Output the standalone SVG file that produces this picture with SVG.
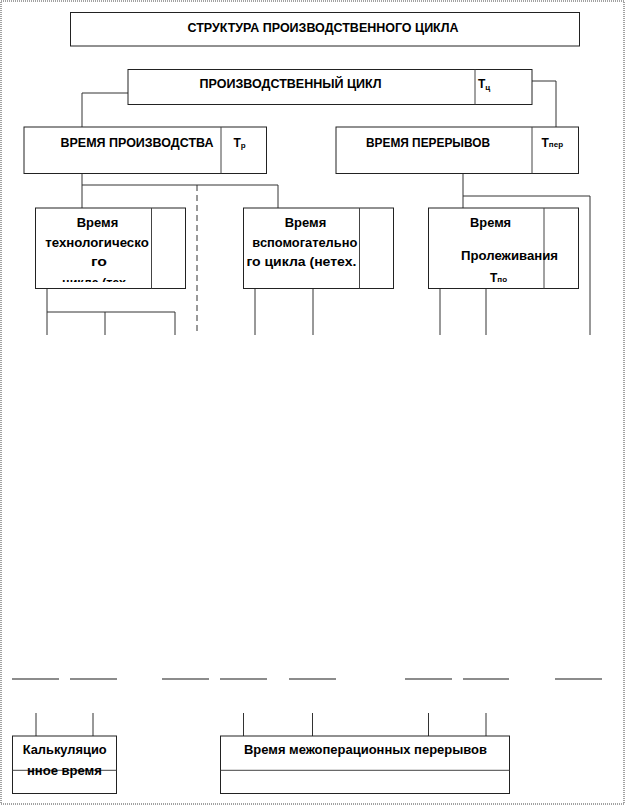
<svg xmlns="http://www.w3.org/2000/svg" width="626" height="806" viewBox="0 0 626 806">
<defs>
<style>
.box{fill:#fff;stroke:#222;stroke-width:1}
.div{stroke:#444;stroke-width:1;fill:none}
.ln{stroke:#333;stroke-width:1;fill:none}
.gl{stroke:#666;stroke-width:1.3;fill:none}
.t{font-family:"Liberation Sans Narrow","Liberation Sans",Arial,sans-serif;font-weight:bold;font-size:12px;fill:#000}
.s{font-size:8px}
</style>
<clipPath id="c1"><rect x="36" y="208" width="115" height="74"/></clipPath>
<clipPath id="c2"><rect x="244" y="208" width="115" height="80"/></clipPath>
</defs>
<rect x="1" y="1" width="623" height="803" fill="#fff" stroke="#444" stroke-width="1" stroke-dasharray="1 1"/>

<g id="connectors">
<polyline class="ln" points="128,93 82,93 82,127"/>
<polyline class="ln" points="532,81 556,81 556,127"/>
<polyline class="ln" points="82,173 82,185 278,185 278,208"/>
<line class="ln" x1="82" y1="185" x2="82" y2="208"/>
<line class="ln" x1="197" y1="185" x2="197" y2="335" stroke-dasharray="6 4"/>
<polyline class="ln" points="463,173 463,208"/>
<polyline class="ln" points="463,196 590,196 590,335"/>
<polyline class="ln" points="47,288 47,335"/>
<polyline class="ln" points="47,312 175,312 175,335"/>
<line class="ln" x1="105" y1="312" x2="105" y2="335"/>
<line class="ln" x1="255" y1="288" x2="255" y2="335"/>
<line class="ln" x1="313" y1="288" x2="313" y2="335"/>
<line class="ln" x1="440" y1="288" x2="440" y2="335"/>
<line class="ln" x1="486" y1="288" x2="486" y2="335"/>
<g class="gl">
<line x1="12" y1="679" x2="59" y2="679"/>
<line x1="70" y1="679" x2="117" y2="679"/>
<line x1="162" y1="679" x2="209" y2="679"/>
<line x1="220" y1="679" x2="267" y2="679"/>
<line x1="289" y1="679" x2="336" y2="679"/>
<line x1="405" y1="679" x2="452" y2="679"/>
<line x1="463" y1="679" x2="509" y2="679"/>
<line x1="555" y1="679" x2="602" y2="679"/>
</g>
<line class="ln" x1="36" y1="713" x2="36" y2="736"/>
<line class="ln" x1="93" y1="713" x2="93" y2="736"/>
<line class="ln" x1="243.5" y1="713" x2="243.5" y2="736"/>
<line class="ln" x1="312.5" y1="713" x2="312.5" y2="736"/>
<line class="ln" x1="428.5" y1="713" x2="428.5" y2="736"/>
<line class="ln" x1="486" y1="713" x2="486" y2="736"/>
</g>

<g id="title">
<rect class="box" x="70.5" y="12.5" width="509" height="33.5"/>
<text class="t" x="323" y="31.5" text-anchor="middle" textLength="271" lengthAdjust="spacingAndGlyphs">СТРУКТУРА ПРОИЗВОДСТВЕННОГО ЦИКЛА</text>
</g>

<g id="prod-cycle">
<rect class="box" x="128" y="69.5" width="404" height="35"/>
<line class="div" x1="475" y1="69.5" x2="475" y2="104.5"/>
<text class="t" x="290.5" y="88.3" text-anchor="middle" textLength="182" lengthAdjust="spacingAndGlyphs">ПРОИЗВОДСТВЕННЫЙ ЦИКЛ</text>
<text class="t" x="478" y="88.3">Т<tspan class="s" dy="2">ц</tspan></text>
</g>

<g id="prod-time">
<rect class="box" x="24" y="127" width="242.5" height="46.5"/>
<line class="div" x1="221" y1="127" x2="221" y2="173.5"/>
<text class="t" x="137" y="146.7" text-anchor="middle" textLength="153" lengthAdjust="spacingAndGlyphs">ВРЕМЯ ПРОИЗВОДСТВА</text>
<text class="t" x="233.5" y="146.7">Т<tspan class="s" dy="1">р</tspan></text>
</g>

<g id="break-time">
<rect class="box" x="336" y="127" width="242.5" height="46.5"/>
<line class="div" x1="532" y1="127" x2="532" y2="173.5"/>
<text class="t" x="428" y="146.7" text-anchor="middle" textLength="124" lengthAdjust="spacingAndGlyphs">ВРЕМЯ ПЕРЕРЫВОВ</text>
<text class="t" x="541.5" y="146.7">Т<tspan class="s" dy="0">пер</tspan></text>
</g>

<g id="tech-cycle">
<rect class="box" x="35.5" y="208" width="150" height="80.5"/>
<line class="div" x1="151.5" y1="208" x2="151.5" y2="288.5"/>
<text class="t" x="97.5" y="226.7" text-anchor="middle" textLength="41.5" lengthAdjust="spacingAndGlyphs">Время</text>
<text class="t" x="97" y="246.7" text-anchor="middle" textLength="103.5" lengthAdjust="spacingAndGlyphs">технологическо</text>
<text class="t" x="99" y="266" text-anchor="middle" textLength="16" lengthAdjust="spacingAndGlyphs">го</text>
<text class="t" x="94" y="286.5" text-anchor="middle" textLength="64" lengthAdjust="spacingAndGlyphs" clip-path="url(#c1)">цикла (тех</text>
</g>

<g id="aux-cycle">
<rect class="box" x="243.5" y="208" width="150" height="80.5"/>
<line class="div" x1="359.5" y1="208" x2="359.5" y2="288.5"/>
<text class="t" x="305.5" y="226.7" text-anchor="middle" textLength="41.5" lengthAdjust="spacingAndGlyphs">Время</text>
<text class="t" x="304.8" y="246.7" text-anchor="middle" textLength="105" lengthAdjust="spacingAndGlyphs">вспомогательно</text>
<text class="t" x="301.4" y="266" text-anchor="middle" textLength="110" lengthAdjust="spacingAndGlyphs">го цикла (нетех.</text>
</g>

<g id="lying-time">
<rect class="box" x="428.5" y="208" width="150" height="80.5"/>
<line class="div" x1="544" y1="208" x2="544" y2="288.5"/>
<text class="t" x="490.6" y="226.7" text-anchor="middle" textLength="41" lengthAdjust="spacingAndGlyphs">Время</text>
<text class="t" x="509.5" y="260" text-anchor="middle" textLength="97" lengthAdjust="spacingAndGlyphs">Пролеживания</text>
<text class="t" x="490" y="281.7">Т<tspan class="s" dy="0">по</tspan></text>
</g>

<g id="calc-time">
<rect class="box" x="12.5" y="736" width="104" height="57.5"/>
<line class="div" x1="12.5" y1="770.3" x2="116.5" y2="770.3"/>
<text class="t" x="64.7" y="754.3" text-anchor="middle" textLength="84" lengthAdjust="spacingAndGlyphs">Калькуляцио</text>
<text class="t" x="64.4" y="774.5" text-anchor="middle" textLength="75" lengthAdjust="spacingAndGlyphs">нное время</text>
</g>

<g id="interop-breaks">
<rect class="box" x="220.5" y="736" width="289" height="57.5"/>
<line class="div" x1="220.5" y1="770.3" x2="509.5" y2="770.3"/>
<text class="t" x="365.5" y="753.7" text-anchor="middle" textLength="243" lengthAdjust="spacingAndGlyphs">Время межоперационных перерывов</text>
</g>
</svg>
